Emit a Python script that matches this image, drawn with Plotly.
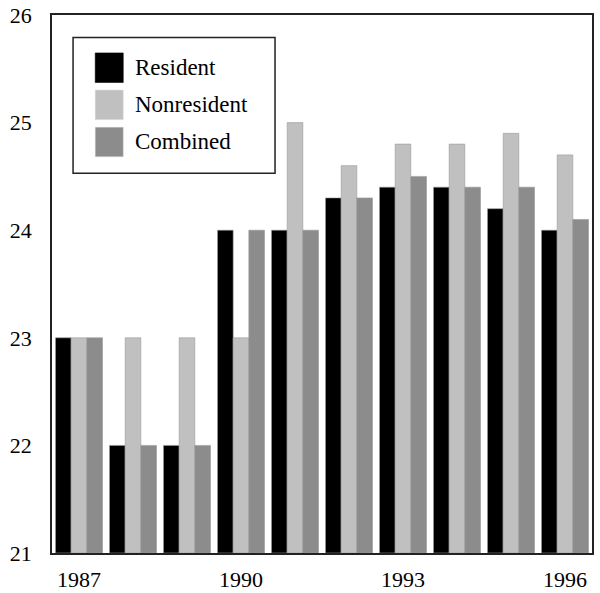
import plotly.graph_objects as go

# Yearly values for each group
years = [1987, 1988, 1989, 1990, 1991, 1992, 1993, 1994, 1995, 1996]
resident = [23.0, 22.0, 22.0, 24.0, 24.0, 24.3, 24.4, 24.4, 24.2, 24.0]
nonresident = [23.0, 23.0, 23.0, 23.0, 25.0, 24.6, 24.8, 24.8, 24.9, 24.7]
combined = [23.0, 22.0, 22.0, 24.0, 24.0, 24.3, 24.5, 24.4, 24.4, 24.1]

series_names = ["Resident", "Nonresident", "Combined"]
series_colors = ["#000000", "#c0c0c0", "#8c8c8c"]
x_tick_years = [1987, 1990, 1993, 1996]
y_ticks = [21, 22, 23, 24, 25, 26]

FONT = "Liberation Serif, Times New Roman, serif"
Y_MIN = 21

fig = go.Figure()
for name, vals, color in zip(series_names, [resident, nonresident, combined], series_colors):
    fig.add_trace(go.Bar(
        x=years,
        y=[v - Y_MIN for v in vals],
        base=Y_MIN,
        name=name,
        marker=dict(color=color, line=dict(color="#9a9a9a", width=0.6)),
        showlegend=False,
    ))

# Boxed legend with large swatches, placed inside the plot area
legend_x0, legend_x1 = 0.039, 0.413
legend_y0, legend_y1 = 0.706, 0.958
shapes = [dict(type="rect", xref="paper", yref="paper",
               x0=legend_x0, x1=legend_x1, y0=legend_y0, y1=legend_y1,
               line=dict(color="#222", width=1.5), fillcolor="white", layer="above")]
annotations = []
row_centers = [0.902, 0.833, 0.764]
for name, color, yc in zip(series_names, series_colors, row_centers):
    h = 0.0275
    w = 0.026
    shapes.append(dict(type="rect", xref="paper", yref="paper",
                       x0=0.08, x1=0.08 + 2 * w, y0=yc - h, y1=yc + h,
                       line=dict(color="#ddd" if color != "#000000" else "#000", width=0.5),
                       fillcolor=color, layer="above"))
    annotations.append(dict(xref="paper", yref="paper", x=0.15, y=yc,
                            xanchor="left", yanchor="middle", showarrow=False,
                            text=name, font=dict(family=FONT, size=23, color="black")))

fig.update_layout(
    width=600, height=593,
    margin=dict(l=52, r=8, t=15, b=40),
    paper_bgcolor="white", plot_bgcolor="white",
    barmode="group", bargap=0.13, bargroupgap=0,
    font=dict(family=FONT, size=22, color="black"),
    shapes=shapes, annotations=annotations,
    xaxis=dict(range=[1986.5, 1996.5], tickmode="array", tickvals=x_tick_years,
               ticktext=[str(y) for y in x_tick_years], automargin=False,
               showgrid=False, zeroline=False, showline=True, mirror=True,
               linecolor="#222", linewidth=1.5,
               ticks="outside", ticklen=6, tickcolor="rgba(0,0,0,0)"),
    yaxis=dict(range=[21, 26], tickmode="array", tickvals=y_ticks, automargin=False,
               showgrid=False, zeroline=False, showline=True, mirror=True,
               linecolor="#222", linewidth=1.5,
               ticks="outside", ticklen=14, tickcolor="rgba(0,0,0,0)"),
)

fig.write_html("out.html")
